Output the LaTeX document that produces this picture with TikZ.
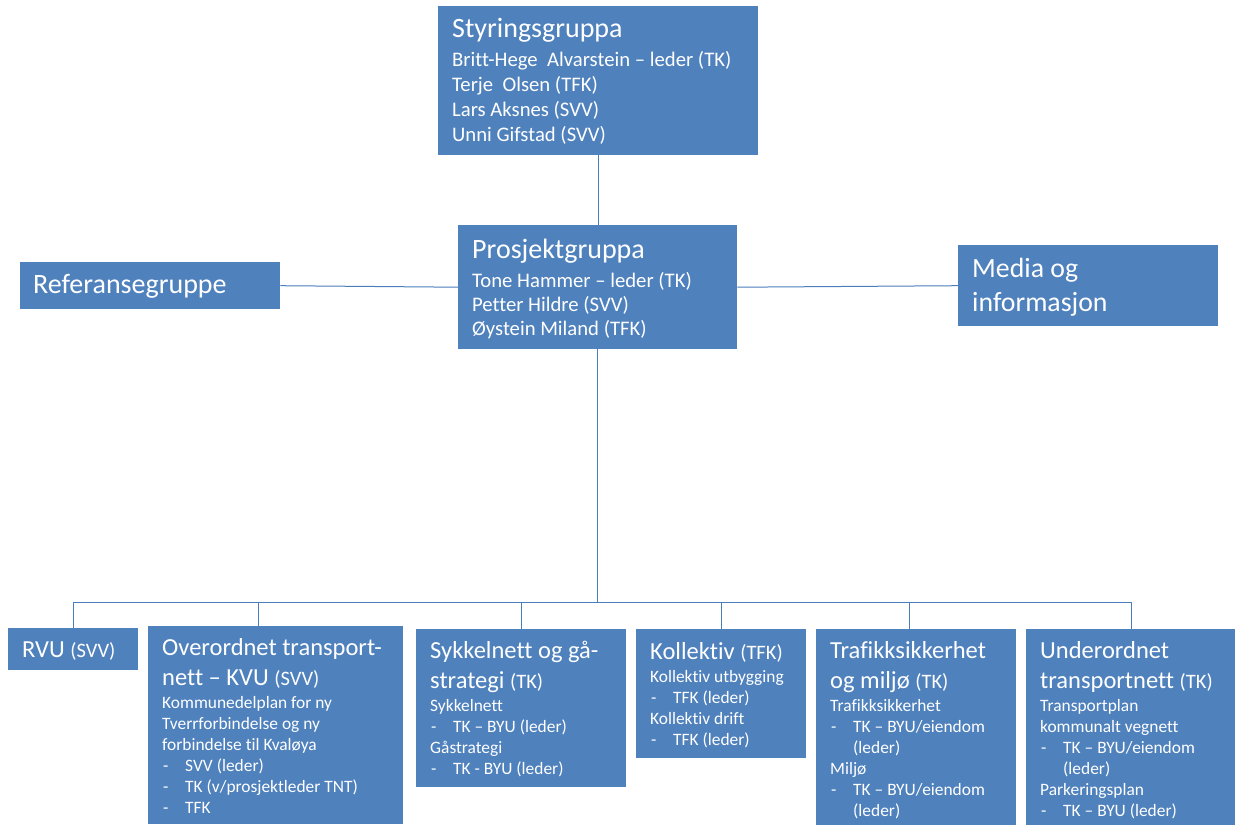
\documentclass[tikz,border=0pt]{standalone}
\usepackage{fontspec}
\setmainfont{Carlito}[Ligatures=NoCommon]
\definecolor{boxblue}{HTML}{4F81BD}
\definecolor{lineblue}{HTML}{4A7EBB}
\newcommand{\headbig}{\fontsize{28}{31}\selectfont}
\newcommand{\namesize}{\fontsize{20.7}{25}\selectfont}
\newcommand{\headsmall}{\fontsize{24.5}{30}\selectfont}
\newcommand{\partner}[1]{{\fontsize{20.5}{30}\selectfont #1}}
\newcommand{\tasksize}{\fontsize{17.4}{21}\selectfont}
\newcommand{\task}[1]{\par\hangindent=23pt\hangafter=1\makebox[23pt][l]{\hspace{1pt}-}#1}
\tikzset{
  box/.style={fill=boxblue, inner sep=0pt, anchor=north west},
  txt/.style={text=white, inner sep=0pt, anchor=base west},
  link/.style={draw=lineblue, line width=1pt}
}
\begin{document}
\begin{tikzpicture}[x=1pt,y=-1pt]
\useasboundingbox (0,0) rectangle (1235,825);
  % Draw upper boxes
  \node[box, minimum width=320, minimum height=149] (styr)  at (438,6)   {};
  \node[box, minimum width=279, minimum height=124] (prosj) at (458,225) {};
  \node[box, minimum width=260, minimum height=47]  (ref)   at (20,262)  {};
  \node[box, minimum width=260, minimum height=81]  (media) at (958,245) {};
  % Draw lower boxes
  \node[box, minimum width=130, minimum height=42]  (rvu)   at (8,628)    {};
  \node[box, minimum width=255, minimum height=198] (ovr)   at (148,626)  {};
  \node[box, minimum width=210, minimum height=158] (syk)   at (416,629)  {};
  \node[box, minimum width=170, minimum height=129] (koll)  at (636,629)  {};
  \node[box, minimum width=200, minimum height=196] (traf)  at (816,629)  {};
  \node[box, minimum width=209, minimum height=196] (under) at (1026,629) {};

  % Draw texts
  \node[txt] (styr-t) at ([shift={(14,31)}]styr.north west) {\parbox[t]{300pt}{\raggedright
    {\headbig Styringsgruppa\par}\vspace{4pt}
    {\namesize Britt-Hege\ \ Alvarstein – leder (TK)\\Terje\ \ Olsen (TFK)\\Lars Aksnes (SVV)\\Unni Gifstad (SVV)\par}}};
  \node[txt] (prosj-t) at ([shift={(14,33)}]prosj.north west) {\parbox[t]{260pt}{\raggedright
    {\headbig Prosjektgruppa\par}\vspace{5pt}
    {\fontsize{20.7}{24}\selectfont Tone Hammer – leder (TK)\\Petter Hildre (SVV)\\Øystein Miland (TFK)\par}}};
  \node[txt] (ref-t) at ([shift={(13,31)}]ref.north west) {\headbig Referansegruppe};
  \node[txt] (media-t) at ([shift={(14,32)}]media.north west) {\parbox[t]{240pt}{\raggedright
    \fontsize{27.8}{34}\selectfont Media og\\informasjon\par}};

  \node[txt] (rvu-t) at ([shift={(14,29)}]rvu.north west) {\headsmall RVU \partner{(SVV)}};
  \node[txt] (ovr-t) at ([shift={(14,29)}]ovr.north west) {\parbox[t]{241pt}{\raggedright
    {\headsmall Overordnet transport-\\nett – KVU \partner{(SVV)}\par}\vspace{2pt}
    {\tasksize Kommunedelplan for ny\\Tverrforbindelse og ny\\forbindelse til Kvaløya
     \task{SVV (leder)}\task{TK (v/prosjektleder TNT)}\task{TFK}\par}}};
  \node[txt] (syk-t) at ([shift={(14,29)}]syk.north west) {\parbox[t]{196pt}{\raggedright
    {\headsmall Sykkelnett og gå-\\strategi \partner{(TK)}\par}\vspace{2pt}
    {\tasksize Sykkelnett\task{TK – BYU (leder)}\par Gåstrategi\task{TK - BYU (leder)}\par}}};
  \node[txt] (koll-t) at ([shift={(14,30)}]koll.north west) {\parbox[t]{156pt}{\raggedright
    {\headsmall Kollektiv \partner{(TFK)}\par}\vspace{2pt}
    {\tasksize Kollektiv utbygging\task{TFK (leder)}\par Kollektiv drift\task{TFK (leder)}\par}}};
  \node[txt] (traf-t) at ([shift={(14,29)}]traf.north west) {\parbox[t]{186pt}{\raggedright
    {\headsmall Trafikksikkerhet\\og miljø \partner{(TK)}\par}\vspace{2pt}
    {\tasksize Trafikksikkerhet\task{TK – BYU/eiendom\newline(leder)}\par Miljø\task{TK – BYU/eiendom\newline(leder)}\par}}};
  \node[txt] (under-t) at ([shift={(14,29)}]under.north west) {\parbox[t]{195pt}{\raggedright
    {\headsmall Underordnet\\transportnett \partner{(TK)}\par}\vspace{2pt}
    {\tasksize Transportplan\\kommunalt vegnett\task{TK – BYU/eiendom\newline(leder)}\par Parkeringsplan\task{TK – BYU (leder)}\par}}};

  % Draw lines
  \coordinate (bus) at (prosj.south |- 0,602);
  \draw[link] (styr.south) -- (styr.south |- prosj.north);
  \draw[link] (ref.east) -- (prosj.west);
  \draw[link] (prosj.east) -- (media.west);
  \draw[link] (prosj.south) -- (bus);
  \draw[link] (rvu.north |- bus) -- (under.north |- bus);
  \foreach \b/\dx in {rvu/0, ovr/-17, syk/0, koll/0, traf/-7, under/1}
    \draw[link] ([xshift=\dx]\b.north) -- ([xshift=\dx]\b.north |- bus);
\end{tikzpicture}
\end{document}
